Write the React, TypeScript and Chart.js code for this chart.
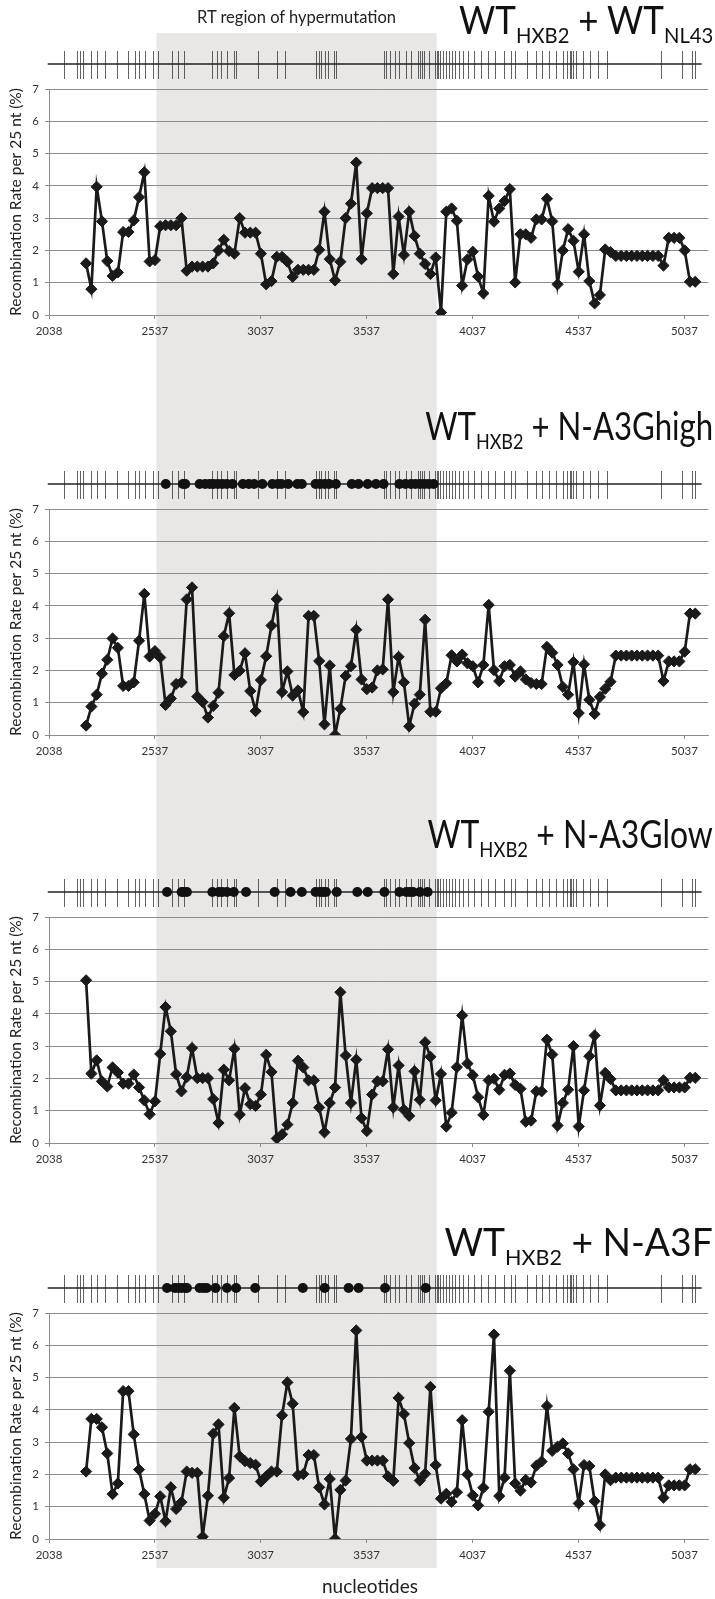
import React, { useEffect, useRef } from 'react';
import { Chart, registerables } from 'chart.js';

Chart.register(...registerables);

const FONT = 'Lato, "Open Sans", "Noto Sans", sans-serif';

// x axis (nucleotide position)
const X_TICKS = [2038, 2537, 3037, 3537, 4037, 4537, 5037];
const X_MIN = 2038;
const X_MAX = 5150;
const BIN_START = 2213;
const BIN_STEP = 25;
const Y_TICKS = [0, 1, 2, 3, 4, 5, 6, 7];

// RT region of hypermutation
const RT_START = 2545;
const RT_END = 3868;

// sequence difference strip
const STRIP_START = 2032;
const STRIP_END = 5118;
const VARIANT_SITES = [
  2107, 2171, 2182, 2197, 2235, 2263, 2304, 2359, 2413, 2443, 2464, 2492, 2531, 2554,
  2617, 2649, 2674, 2805, 2829, 2852, 2878, 2910, 2921, 3024, 3114, 3152, 3296, 3311,
  3324, 3339, 3354, 3381, 3392, 3617, 3628, 3649, 3671, 3692, 3724, 3746, 3778, 3789,
  3799, 3810, 3831, 3859, 3868, 3874, 3885, 3896, 3911, 3928, 3939, 3956, 3975, 3992,
  4014, 4046, 4078, 4110, 4142, 4185, 4217, 4239, 4292, 4335, 4367, 4399, 4431, 4464,
  4485, 4496, 4502, 4511, 4524, 4560, 4592, 4631, 4671, 4924, 5027, 5074, 5089,
];

// hypermutated sites (dots)
const DOTS_A3G_HIGH = [
  2589, 2670, 2681, 2749, 2775, 2797, 2814, 2835, 2856, 2878, 2904, 2953, 2981, 3006,
  3045, 3092, 3118, 3135, 3167, 3210, 3231, 3296, 3317, 3339, 3360, 3392, 3467, 3499,
  3542, 3581, 3617, 3692, 3720, 3746, 3767, 3789, 3810, 3831, 3853,
];
const DOTS_A3G_LOW = [
  2595, 2664, 2674, 2689, 2809, 2839, 2856, 2878, 2910, 2968, 3103, 3178, 3231, 3296,
  3317, 3332, 3345, 3396, 3493, 3542, 3621, 3692, 3724, 3741, 3756, 3789, 3825,
];
const DOTS_A3F = [
  2595, 2632, 2649, 2664, 2681, 2689, 2749, 2766, 2782, 2824, 2878, 2921, 3011, 3236,
  3339, 3452, 3499, 3624, 3816,
];

// recombination rate per 25 nt (%)
const RATE_WT_NL43 = [
  1.6, 0.8, 3.97, 2.9, 1.67, 1.21, 1.32, 2.57, 2.57, 2.93,
  3.65, 4.42, 1.66, 1.7, 2.75, 2.78, 2.78, 2.78, 3.0, 1.37,
  1.5, 1.5, 1.5, 1.5, 1.6, 2.0, 2.33, 1.98, 1.9, 3.0,
  2.55, 2.55, 2.55, 1.9, 0.95, 1.05, 1.8, 1.8, 1.65, 1.18,
  1.4, 1.4, 1.4, 1.4, 2.02, 3.2, 1.73, 1.07, 1.65, 3.0,
  3.45, 4.72, 1.73, 3.15, 3.93, 3.93, 3.93, 3.93, 1.27, 3.05,
  1.86, 3.2, 2.45, 1.9, 1.58, 1.27, 1.78, 0.08, 3.2, 3.3,
  2.92, 0.91, 1.72, 1.96, 1.19, 0.67, 3.69, 2.89, 3.3, 3.53,
  3.9, 1.01, 2.5, 2.5, 2.39, 2.96, 2.96, 3.6, 2.9, 0.95,
  2.0, 2.66, 2.3, 1.34, 2.5, 1.05, 0.36, 0.62, 2.03, 1.95,
  1.83, 1.83, 1.83, 1.83, 1.83, 1.83, 1.83, 1.83, 1.83, 1.53,
  2.39, 2.39, 2.39, 2.0, 1.03, 1.03,
];
const RATE_A3G_HIGH = [
  0.29, 0.88, 1.25, 1.9, 2.33, 2.99, 2.7, 1.52, 1.52, 1.63,
  2.92, 4.37, 2.43, 2.6, 2.4, 0.93, 1.13, 1.58, 1.63, 4.2,
  4.57, 1.19, 1.02, 0.54, 0.9, 1.31, 3.06, 3.77, 1.86, 1.99,
  2.53, 1.36, 0.74, 1.7, 2.44, 3.39, 4.21, 1.33, 1.97, 1.22,
  1.38, 0.71, 3.69, 3.69, 2.29, 0.33, 2.15, 0.0, 0.81, 1.83,
  2.13, 3.26, 1.72, 1.42, 1.47, 2.0, 2.03, 4.2, 1.33, 2.42,
  1.63, 0.27, 0.97, 1.25, 3.57, 0.72, 0.72, 1.45, 1.6, 2.47,
  2.28, 2.49, 2.22, 2.13, 1.63, 2.17, 4.03, 2.01, 1.67, 2.13,
  2.17, 1.81, 1.97, 1.72, 1.61, 1.58, 1.58, 2.73, 2.55, 2.17,
  1.49, 1.25, 2.26, 0.68, 2.19, 1.09, 0.65, 1.18, 1.43, 1.65,
  2.46, 2.46, 2.46, 2.46, 2.46, 2.46, 2.46, 2.46, 2.46, 1.67,
  2.28, 2.28, 2.28, 2.58, 3.76, 3.76,
];
const RATE_A3G_LOW = [
  5.04, 2.15, 2.56, 1.91, 1.75, 2.34, 2.18, 1.84, 1.84, 2.12,
  1.72, 1.32, 0.89, 1.29, 2.76, 4.21, 3.46, 2.13, 1.6, 2.04,
  2.94, 2.01, 2.01, 2.01, 1.36, 0.62, 2.27, 1.94, 2.92, 0.88,
  1.7, 1.2, 1.15, 1.5, 2.73, 2.2, 0.14, 0.27, 0.57, 1.24,
  2.55, 2.34, 1.94, 1.94, 1.1, 0.33, 1.24, 1.72, 4.67, 2.71,
  1.24, 2.58, 0.77, 0.37, 1.5, 1.91, 1.91, 2.9, 1.1, 2.4,
  1.03, 0.84, 2.22, 1.34, 3.12, 2.67, 1.32, 2.14, 0.51, 0.94,
  2.35, 3.95, 2.46, 2.1, 1.42, 0.87, 1.94, 1.99, 1.65, 2.11,
  2.15, 1.8, 1.68, 0.66, 0.69, 1.6, 1.6, 3.2, 2.74, 0.54,
  1.24, 1.65, 3.0, 0.51, 1.63, 2.69, 3.33, 1.16, 2.17, 1.98,
  1.63, 1.63, 1.63, 1.63, 1.63, 1.63, 1.63, 1.63, 1.63, 1.94,
  1.72, 1.72, 1.72, 1.72, 2.02, 2.02,
];
const RATE_A3F = [
  2.09, 3.72, 3.72, 3.46, 2.65, 1.39, 1.72, 4.58, 4.58, 3.24,
  2.15, 1.39, 0.57, 0.78, 1.32, 0.55, 1.6, 0.93, 1.14, 2.09,
  2.05, 2.05, 0.07, 1.34, 3.26, 3.55, 1.28, 1.89, 4.06, 2.56,
  2.41, 2.35, 2.3, 1.78, 1.94, 2.09, 2.09, 3.83, 4.85, 4.19,
  1.98, 2.01, 2.6, 2.6, 1.6, 1.07, 1.86, 0.0, 1.52, 1.81,
  3.1, 6.46, 3.16, 2.43, 2.43, 2.43, 2.43, 1.94, 1.8, 4.37,
  3.87, 2.97, 2.2, 1.81, 2.02, 4.71, 2.29, 1.25, 1.4, 1.15,
  1.45, 3.68, 2.0, 1.35, 1.04, 1.59, 3.94, 6.33, 1.33, 1.9,
  5.21, 1.72, 1.5, 1.83, 1.75, 2.27, 2.4, 4.12, 2.73, 2.86,
  2.96, 2.65, 2.16, 1.1, 2.29, 2.26, 1.17, 0.43, 2.0, 1.82,
  1.9, 1.9, 1.9, 1.9, 1.9, 1.9, 1.9, 1.9, 1.9, 1.28,
  1.66, 1.66, 1.66, 1.66, 2.16, 2.16,
];

const PANEL_TITLES = [
  ['WT', 'HXB2', ' + WT', 'NL43'],
  ['WT', 'HXB2', ' + N-A3Ghigh', ''],
  ['WT', 'HXB2', ' + N-A3Glow', ''],
  ['WT', 'HXB2', ' + N-A3F', ''],
];
const PANEL_RATES = [RATE_WT_NL43, RATE_A3G_HIGH, RATE_A3G_LOW, RATE_A3F];
const PANEL_DOTS = [[], DOTS_A3G_HIGH, DOTS_A3G_LOW, DOTS_A3F];

// layout
const W = 715;
const H = 1599;
const CANVAS_TOP = [0, 420, 828, 1224];
const CANVAS_H = [420, 408, 396, 375];
const TITLE_TOP = [0, 406, 814, 1222];
const TITLE_SQUEEZE = [0.92, 0.82, 0.84, 0.98];
const PLOT_TOP = 89;
const PLOT_BOTTOM = 315;
const X_AXIS_H = 30;
const BAND_TOP = 33;
const BAND_BOTTOM = 1568;

const rtBandPlugin = {
  id: 'rtBand',
  beforeDraw(chart: any, _args: any, opts: any) {
    const xs = chart.scales.x;
    const ctx = chart.ctx;
    const x0 = xs.getPixelForValue(RT_START);
    const x1 = xs.getPixelForValue(RT_END);
    ctx.save();
    ctx.fillStyle = '#e9e7e6';
    ctx.fillRect(x0, opts.top, x1 - x0, opts.bottom - opts.top);
    ctx.restore();
  },
};

const stripPlugin = {
  id: 'siteStrip',
  afterDraw(chart: any, _args: any, opts: any) {
    const xs = chart.scales.x;
    const ctx = chart.ctx;
    const top = chart.chartArea.top;
    const yLine = top - 25;
    ctx.save();
    ctx.strokeStyle = 'rgba(45,45,45,0.75)';
    ctx.lineWidth = 1;
    ctx.beginPath();
    for (const v of VARIANT_SITES) {
      const px = Math.round(xs.getPixelForValue(v)) + 0.5;
      ctx.moveTo(px, top - 38);
      ctx.lineTo(px, top - 10);
    }
    ctx.stroke();
    ctx.strokeStyle = '#222';
    ctx.lineWidth = 1.6;
    ctx.beginPath();
    ctx.moveTo(xs.getPixelForValue(STRIP_START), yLine);
    ctx.lineTo(xs.getPixelForValue(STRIP_END), yLine);
    ctx.stroke();
    ctx.fillStyle = '#111';
    for (const v of opts.dots || []) {
      ctx.beginPath();
      ctx.arc(xs.getPixelForValue(v), yLine, 5, 0, Math.PI * 2);
      ctx.fill();
    }
    ctx.restore();
  },
};

function PanelChart({ index }: { index: number }) {
  const ref = useRef<HTMLCanvasElement>(null);
  const height = CANVAS_H[index];
  useEffect(() => {
    const rates = PANEL_RATES[index];
    const points = rates.map((y, i) => ({ x: BIN_START + i * BIN_STEP, y }));
    const bandTop = Math.max(0, BAND_TOP - CANVAS_TOP[index]);
    const bandBottom = Math.min(height, BAND_BOTTOM - CANVAS_TOP[index]);
    const chart = new Chart(ref.current as HTMLCanvasElement, {
      type: 'line',
      data: {
        datasets: [
          {
            data: points,
            borderColor: '#1a1a1a',
            borderWidth: 2.7,
            pointStyle: 'rectRot',
            pointRadius: 5.6,
            pointBackgroundColor: '#1a1a1a',
            pointBorderColor: '#1a1a1a',
            pointBorderWidth: 1,
            tension: 0,
          },
        ],
      },
      options: {
        animation: false,
        responsive: false,
        maintainAspectRatio: false,
        layout: {
          padding: { top: PLOT_TOP, left: 0, right: 3, bottom: height - PLOT_BOTTOM - X_AXIS_H },
        },
        plugins: {
          legend: { display: false },
          tooltip: { enabled: false },
          rtBand: { top: bandTop, bottom: bandBottom },
          siteStrip: { dots: PANEL_DOTS[index] },
        } as any,
        scales: {
          x: {
            type: 'linear',
            min: X_MIN,
            max: X_MAX,
            afterBuildTicks: (axis: any) => {
              axis.ticks = X_TICKS.map((value) => ({ value }));
            },
            afterFit: (axis: any) => {
              axis.height = X_AXIS_H;
            },
            ticks: {
              autoSkip: false,
              maxRotation: 0,
              padding: 5,
              color: '#333',
              font: { family: FONT, size: 11.5 },
              callback: (v: any) => String(v),
            },
            grid: { drawOnChartArea: false, tickLength: 4, color: '#8c8c8c' },
            border: { color: '#8c8c8c', width: 1 },
          },
          y: {
            min: 0,
            max: 7,
            afterBuildTicks: (axis: any) => {
              axis.ticks = Y_TICKS.map((value) => ({ value }));
            },
            afterFit: (axis: any) => {
              axis.width = 49;
            },
            ticks: {
              padding: 6,
              color: '#333',
              font: { family: FONT, size: 11.5 },
              callback: (v: any) => String(v),
            },
            grid: { color: '#8c8c8c', tickLength: 4, lineWidth: 1 },
            border: { color: '#8c8c8c', width: 1 },
            title: {
              display: true,
              text: 'Recombination Rate per 25 nt (%)',
              color: '#222',
              font: { family: FONT, size: 15.5 },
              padding: { top: 7, bottom: 0 },
            },
          },
        },
      },
      plugins: [rtBandPlugin, stripPlugin],
    } as any);
    return () => chart.destroy();
  }, [index, height]);
  return (
    <canvas
      ref={ref}
      width={W}
      height={height}
      style={{ position: 'absolute', left: 0, top: CANVAS_TOP[index], width: W, height }}
    />
  );
}

function PanelTitle({ index }: { index: number }) {
  const [a, sa, b, sb] = PANEL_TITLES[index];
  const sub: React.CSSProperties = { fontSize: 22, position: 'relative', top: 9 };
  return (
    <div
      style={{
        position: 'absolute',
        right: 2,
        top: TITLE_TOP[index],
        fontFamily: FONT,
        fontSize: 38,
        lineHeight: '38px',
        color: '#111',
        whiteSpace: 'pre',
        transform: `scaleX(${TITLE_SQUEEZE[index]})`,
        transformOrigin: 'right top',
      }}
    >
      {a}
      <span style={sub}>{sa}</span>
      {b}
      {sb ? <span style={sub}>{sb}</span> : null}
    </div>
  );
}

export default function App() {
  return (
    <div
      style={{
        position: 'absolute',
        left: 0,
        top: 0,
        width: W,
        height: H,
        background: '#fff',
        overflow: 'hidden',
      }}
    >
      {[0, 1, 2, 3].map((i) => (
        <PanelChart key={'c' + i} index={i} />
      ))}
      {[0, 1, 2, 3].map((i) => (
        <PanelTitle key={'t' + i} index={i} />
      ))}
      <div
        style={{
          position: 'absolute',
          left: 186,
          top: 7,
          width: 221,
          textAlign: 'center',
          fontFamily: FONT,
          fontSize: 16.5,
          lineHeight: '20px',
          color: '#222',
          whiteSpace: 'nowrap',
        }}
      >
        RT region of hypermutation
      </div>
      <div
        style={{
          position: 'absolute',
          left: 300,
          top: 1574,
          width: 140,
          textAlign: 'center',
          fontFamily: FONT,
          fontSize: 19,
          lineHeight: '24px',
          color: '#222',
        }}
      >
        nucleotides
      </div>
    </div>
  );
}
